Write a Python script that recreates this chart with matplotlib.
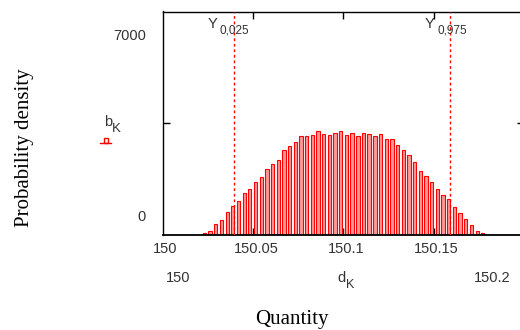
import matplotlib
matplotlib.use("Agg")
import matplotlib.pyplot as plt
from matplotlib.transforms import offset_copy

# histogram bin centres (Quantity) and bar heights
d_k = [150.0232, 150.0263, 150.0295, 150.0326, 150.0358, 150.0389, 150.0421, 150.0452,
       150.0483, 150.0515, 150.0546, 150.0578, 150.0609, 150.0641, 150.0672, 150.0703,
       150.0735, 150.0766, 150.0798, 150.0829, 150.0861, 150.0892, 150.0923, 150.0955,
       150.0986, 150.1018, 150.1049, 150.1081, 150.1112, 150.1143, 150.1175, 150.1206,
       150.1238, 150.1269, 150.1301, 150.1332, 150.1363, 150.1395, 150.1426, 150.1458,
       150.1489, 150.1521, 150.1552, 150.1583, 150.1615, 150.1646, 150.1678, 150.1709,
       150.1741, 150.1772]
b_k = [53, 126, 346, 471, 723, 911, 1069, 1310, 1446, 1666,
       1823, 2064, 2222, 2357, 2662, 2797, 2913, 3102, 3102, 3143,
       3247, 3174, 3133, 3206, 3247, 3133, 3206, 3102, 3206, 3174,
       3102, 3174, 3017, 3017, 2829, 2672, 2493, 2273, 1990, 1833,
       1656, 1456, 1257, 1122, 890, 701, 503, 314, 126, 53]

y_lo = 150.0394   # Y 0,025
y_hi = 150.1591   # Y 0,975

xticks = [150, 150.05, 150.1, 150.15]
xtick_labels = ["150", "150.05", "150.1", "150.15"]

W, H = 520, 330
fig = plt.figure(figsize=(5.2, 3.3), dpi=100)
ax = fig.add_axes([162.5 / W, 1 - 235 / H, (524 - 162.5) / W, (235 - 11.5) / H])

ax.bar(d_k, b_k, width=0.00185, color=(1, 0.6, 0.6), edgecolor="red", linewidth=0.8, zorder=2)
ax.axvline(y_lo, color="red", lw=1, ls=(0, (2, 2)), zorder=3)
ax.axvline(y_hi, color="red", lw=1, ls=(0, (2, 2)), zorder=3)

ax.set_xlim(150, 150.2)
ax.set_ylim(0, 7000)
ax.set_xticks([150.05, 150.1, 150.15])
ax.set_yticks([3500])
ax.tick_params(direction="in", length=5, width=1, color="black",
               top=True, right=True, labelbottom=False, labelleft=False)
for s in ax.spines.values():
    s.set_linewidth(1)
ax.spines["bottom"].set_linewidth(1.3)
ax.patch.set_alpha(0)

tf = dict(family="Liberation Sans", size=10.5, color="#333333")
# x tick labels, a little right of the ticks and below the axis
lab_tr = offset_copy(ax.get_xaxis_transform(), fig=fig, x=3, y=-18, units="dots")
for xv, lbl in zip(xticks, xtick_labels):
    ax.text(xv, 0, lbl, transform=lab_tr, ha="center", va="baseline", **tf)

fig.text(146 / W, 1 - 39.5 / H, "7000", ha="right", va="baseline", **tf)
fig.text(146 / W, 1 - 221 / H, "0", ha="right", va="baseline", **tf)
fig.text(178 / W, 1 - 282 / H, "150", ha="center", va="baseline", **tf)
fig.text(492 / W, 1 - 282 / H, "150.2", ha="center", va="baseline", **tf)

# d_K axis label
fig.text(337 / W, 1 - 282 / H, "d", ha="left", va="baseline", **tf)
fig.text(346 / W, 1 - 288 / H, "K", ha="left", va="baseline",
         family="Liberation Sans", size=9, color="#333333")

# legend b_K
fig.text(104 / W, 1 - 126.5 / H, "b", ha="left", va="baseline", **tf)
fig.text(111.5 / W, 1 - 131.5 / H, "K", ha="left", va="baseline",
         family="Liberation Sans", size=9.5, color="#333333")
fig.add_artist(plt.Line2D([100 / W, 111 / W], [1 - 143 / H, 1 - 143 / H], color="red", lw=1))
fig.add_artist(plt.Rectangle((104 / W, 1 - 143 / H), 4 / W, 5 / H, fill=False,
                             edgecolor="red", lw=1))

# quantile labels
fig.text(207.5 / W, 1 - 28.5 / H, "Y", ha="left", va="baseline", **tf)
fig.text(220 / W, 1 - 33.5 / H, "0,025", ha="left", va="baseline",
         family="Liberation Sans", size=8.5, color="#333333")
fig.text(425 / W, 1 - 28.5 / H, "Y", ha="left", va="baseline", **tf)
fig.text(437 / W, 1 - 33.5 / H, "0,975", ha="left", va="baseline",
         family="Liberation Sans", size=8.5, color="#333333")

# axis titles
fig.text(25 / W, 1 - 148 / H, "Probability density", rotation=90, ha="center", va="center",
         family="Liberation Serif", size=15, color="black")
fig.text(292 / W, 1 / H, "Quantity", ha="center", va="bottom",
         family="Liberation Serif", size=15, color="black")

fig.savefig("out.png", dpi=100)
